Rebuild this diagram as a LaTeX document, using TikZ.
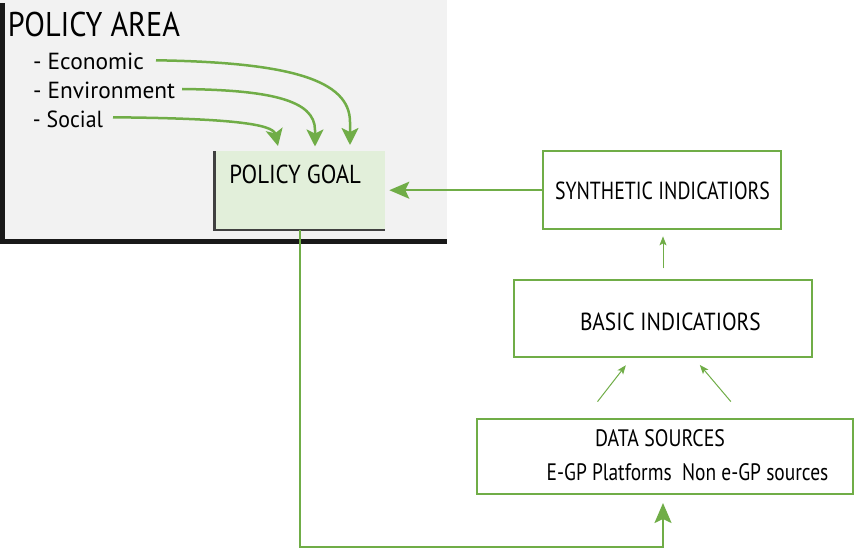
\documentclass[tikz,border=0pt]{standalone}
\usepackage{fontspec}
\setmainfont{PT Sans}
\usetikzlibrary{arrows.meta,calc}

\definecolor{leafgreen}{HTML}{70AD47}
\definecolor{goalfill}{HTML}{E2EFDA}
\definecolor{areafill}{HTML}{F2F2F2}
\definecolor{edgegray}{HTML}{404040}

% text set at a given size and squeezed to a given width
\newcommand{\fitlabel}[3]{\resizebox{#1pt}{\height}{\fontsize{#2}{#2}\selectfont #3}}

\begin{document}
\begin{tikzpicture}[x=1pt,y=-1pt,
  txt/.style={anchor=base west, inner sep=0pt, outer sep=0pt, text=black},
  gbox/.style={draw=leafgreen, line width=2pt, fill=white, inner sep=0pt, outer sep=0pt},
  bigarrow/.style={draw=leafgreen, line width=2pt, -{Stealth[length=20pt,width=17pt,inset=4pt]}},
  curvearrow/.style={draw=leafgreen, line width=2.5pt, -{Stealth[length=17pt,width=17pt,inset=4pt]}},
  thinarrow/.style={draw=leafgreen, line width=1pt, -{Stealth[length=9pt,width=7pt,inset=2pt]}},
]
\useasboundingbox (0,0) rectangle (855,551);
\fill[white] (0,0) rectangle (855,551);

% policy area panel with its heavy left and bottom edges
\node[fill=areafill, minimum width=447pt, minimum height=244pt, inner sep=0pt, outer sep=0pt, anchor=north west] (area) at (0,0) {};
\fill[black!90] ($(area.north west)+(0,3)$) rectangle ($(area.south west)+(4.5,0)$);
\fill[black!90] ($(area.south west)+(0,-5.5)$) rectangle (area.south east);

% policy goal box
\node[fill=goalfill, minimum width=170.6pt, minimum height=79pt, inner sep=0pt, outer sep=0pt] (goal) at (300,190.5) {};
\draw[edgegray, line width=2.5pt] (goal.north west) -- (goal.south west) -- (goal.south east);

% indicator and data boxes
\node[gbox, minimum width=237.7pt, minimum height=78.3pt] (synth) at (662.2,190.2) {};
\node[gbox, minimum width=297.4pt, minimum height=77.3pt] (basic) at (663,318.7) {};
\node[gbox, minimum width=376.6pt, minimum height=75pt] (data) at (665,456.5) {};

% texts
\node[txt] (areatxt) at (8,36.7) {\fitlabel{172}{34.3}{POLICY AREA}};
\node[txt] (econ) at (33,69.3) {\fitlabel{111}{23.3}{- Economic}};
\node[txt] (env) at (33,98.3) {\fitlabel{142}{23.3}{- Environment}};
\node[txt] (soc) at (33,127.3) {\fitlabel{70}{23.3}{- Social}};
\node[txt] (goaltxt) at (229.3,183.3) {\fitlabel{131.7}{26}{POLICY GOAL}};
\node[txt] (synthtxt) at (555,200) {\fitlabel{215}{24.7}{SYNTHETIC INDICATIORS}};
\node[txt] (basictxt) at (580,330) {\fitlabel{180.7}{24.7}{BASIC INDICATIORS}};
\node[txt] (datatxt) at (595,446.7) {\fitlabel{130}{23.8}{DATA SOURCES}};
\node[txt] (sourcetxt) at (546.7,480) {\fitlabel{281.6}{23.8}{E-GP Platforms\ \ Non e-GP sources}};

% policy areas feeding the goal
\draw[curvearrow] ($(econ.base east)+(12,-9)$) .. controls +(134,2) and +(0,-42) .. ($(goal.north)+(50,-29)$) -- ($(goal.north)+(50,-6)$);
\draw[curvearrow] ($(env.base east)+(7,-9.3)$) .. controls +(88,1) and +(0,-30) .. ($(goal.north)+(15,-21)$) -- ($(goal.north)+(15,-4.5)$);
\draw[curvearrow] ($(soc.base east)+(10,-10)$) .. controls +(117,1) and +(-5,-22) .. ($(goal.north)+(-22,-5)$);

% indicator chain
\draw[bigarrow, shorten >=4pt] (synth.west) -- (synth.west -| goal.east);
\draw[thinarrow, shorten <=11.7pt, shorten >=7pt] (basic.north) -- (basic.north |- synth.south);
\draw[thinarrow, shorten <=22pt, shorten >=10pt] ($(data.north)+(-81,0)$) -- ($(basic.south)+(-31,0)$);
\draw[thinarrow, shorten <=22.8pt, shorten >=10pt] ($(data.north)+(80.6,0)$) -- ($(basic.south)+(30.4,0)$);

% feedback from the goal to the data sources
\draw[bigarrow, shorten >=9pt] (goal.south) -- ++(0,316.7) -| ([xshift=-2pt]data.south);
\end{tikzpicture}
\end{document}
